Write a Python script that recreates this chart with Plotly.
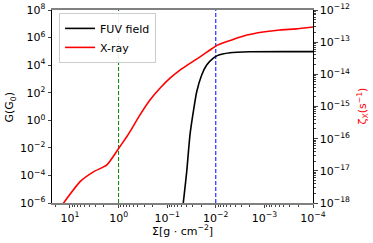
import plotly.graph_objects as go

# FUV field (left axis, G in G0)
sigma_fuv = [0.0484, 0.0467, 0.0397, 0.0340, 0.0290, 0.0247, 0.0195, 0.0154, 0.01125, 0.0093, 0.00511, 0.00198, 0.0001]
g_fuv = [3.2e-7, 1.0e-6, 1.8e-4, 0.085, 4.2, 117, 1930, 1.02e4, 3.2e4, 4.9e4, 7.9e4, 9.3e4, 9.5e4]

# X-ray ionisation rate (right axis, s^-1)
sigma_xray = [17.8, 13.7, 6.2, 3.3, 1.76, 1.04, 0.68, 0.582, 0.363, 0.226, 0.141, 0.0875, 0.0546, 0.034,
              0.0211, 0.01315, 0.0093, 0.0023, 0.00107, 0.00048, 0.000224, 0.0001]
zeta_xray = [5.6e-19, 9.8e-19, 4.6e-18, 9.3e-18, 1.5e-17, 4.5e-17, 1.15e-16, 1.66e-16, 5.5e-16, 1.6e-15, 3.7e-15,
             7.6e-15, 1.36e-14, 2.2e-14, 3.5e-14, 5.7e-14, 8.1e-14, 1.66e-13, 2.07e-13, 2.4e-13, 2.59e-13, 2.96e-13]

# vertical reference lines
vline_sigma = [1.0, 0.01]
vline_colors = ["#008000", "#0000ff"]

x_tickvals = [10, 1, 0.1, 0.01, 0.001, 0.0001]
x_ticktext = ["10<sup>1</sup>", "10<sup>0</sup>", "10<sup>−1</sup>", "10<sup>−2</sup>", "10<sup>−3</sup>", "10<sup>−4</sup>"]
y_tickvals = [1e-6, 1e-4, 1e-2, 1e0, 1e2, 1e4, 1e6, 1e8]
y_ticktext = ["10<sup>−6</sup>", "10<sup>−4</sup>", "10<sup>−2</sup>", "10<sup>0</sup>", "10<sup>2</sup>", "10<sup>4</sup>", "10<sup>6</sup>", "10<sup>8</sup>"]
y2_tickvals = [1e-18, 1e-17, 1e-16, 1e-15, 1e-14, 1e-13, 1e-12]
y2_ticktext = ["10<sup>−18</sup>", "10<sup>−17</sup>", "10<sup>−16</sup>", "10<sup>−15</sup>", "10<sup>−14</sup>", "10<sup>−13</sup>", "10<sup>−12</sup>"]

x_minor = [m * 10.0 ** e for e in range(-5, 2) for m in range(2, 10)]
y2_minor = [m * 10.0 ** e for e in range(-19, -12) for m in range(2, 10)]

font = "DejaVu Sans"
fig = go.Figure()

for xv, c in zip(vline_sigma, vline_colors):
    fig.add_trace(go.Scatter(x=[xv, xv], y=[1e-6, 1e8], mode="lines", showlegend=False,
                             line=dict(color=c, width=1, dash="4px,2px"), yaxis="y"))

fig.add_trace(go.Scatter(x=sigma_fuv, y=g_fuv, mode="lines", name="FUV field",
                         line=dict(color="black", width=1.6, shape="spline", smoothing=0.6), yaxis="y"))
fig.add_trace(go.Scatter(x=sigma_xray, y=zeta_xray, mode="lines", name="X-ray",
                         line=dict(color="red", width=1.6, shape="spline", smoothing=0.5), yaxis="y2"))

fig.update_layout(
    width=373, height=243,
    margin=dict(l=52, r=60, t=10, b=40, autoexpand=False),
    paper_bgcolor="white", plot_bgcolor="white",
    font=dict(family=font, size=11, color="black"),
    xaxis=dict(type="log", range=[1.37, -4], tickmode="array", tickvals=x_tickvals, ticktext=x_ticktext,
               ticks="outside", ticklen=3.5, tickwidth=0.8, showgrid=False, zeroline=False, automargin=False,
               showline=True, linecolor="#808080", linewidth=1.6, mirror=True,
               minor=dict(tickmode="array", tickvals=x_minor, ticks="outside", ticklen=2, tickwidth=0.6, showgrid=False)),
    yaxis=dict(type="log", range=[-6, 8], tickmode="array", tickvals=y_tickvals, ticktext=y_ticktext,
               ticks="outside", ticklen=3.5, tickwidth=0.8, showgrid=False, zeroline=False, automargin=False,
               showline=True, linecolor="black", linewidth=1),
    yaxis2=dict(type="log", range=[-18, -12], overlaying="y", side="right", tickmode="array",
                tickvals=y2_tickvals, ticktext=y2_ticktext, automargin=False,
                ticks="outside", ticklen=3.5, tickwidth=0.8, showgrid=False, zeroline=False,
                showline=True, linecolor="black", linewidth=1,
                minor=dict(tickmode="array", tickvals=y2_minor, ticks="outside", ticklen=2, tickwidth=0.6, showgrid=False)),
    legend=dict(x=0.027, y=0.985, xanchor="left", yanchor="top", bgcolor="rgba(255,255,255,0.9)",
                bordercolor="#cccccc", borderwidth=1, font=dict(size=11), tracegroupgap=0, itemwidth=30),
    annotations=[
        dict(text="Σ[g · cm<sup>−2</sup>]", xref="paper", yref="paper", x=0.5, y=-0.14,
             xanchor="center", yanchor="middle", showarrow=False, font=dict(size=11)),
        dict(text="G(G<sub>0</sub>)", xref="paper", yref="paper", x=-0.161, y=0.5,
             xanchor="center", yanchor="middle", showarrow=False, textangle=-90, font=dict(size=11)),
        dict(text="ζ<sub>X</sub>(s<sup>−1</sup>)", xref="paper", yref="paper", x=1.188, y=0.5,
             xanchor="center", yanchor="middle", showarrow=False, textangle=-90, font=dict(size=11, color="red")),
    ],
)

fig.write_html("out.html", config={"displayModeBar": False},
               post_script="document.body.style.margin='0px';")
